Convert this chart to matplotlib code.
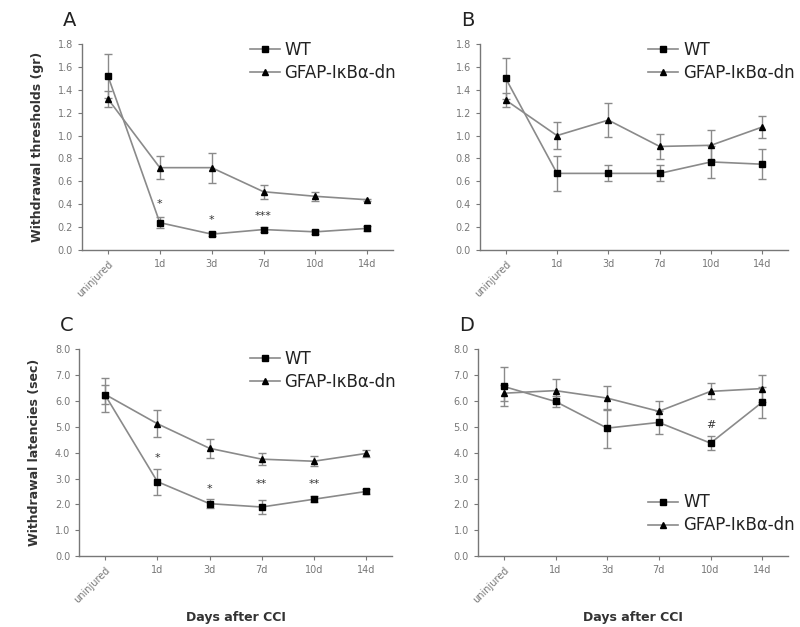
import matplotlib
matplotlib.use("Agg")
import matplotlib.pyplot as plt
from matplotlib.lines import Line2D
import numpy as np

categories = ["uninjured", "1d", "3d", "7d", "10d", "14d"]

# Panel A: withdrawal thresholds (gr), WT vs GFAP
a_wt = [1.52, 0.24, 0.14, 0.18, 0.16, 0.19]
a_wt_err = [0.19, 0.05, 0.02, 0.02, 0.015, 0.02]
a_gf = [1.32, 0.72, 0.72, 0.51, 0.47, 0.44]
a_gf_err = [0.07, 0.10, 0.13, 0.06, 0.04, 0.01]
a_marks = [("1d", 0.40, "*"), ("3d", 0.26, "*"), ("7d", 0.30, "***")]

# Panel B
b_wt = [1.50, 0.67, 0.67, 0.67, 0.77, 0.75]
b_wt_err = [0.18, 0.15, 0.07, 0.07, 0.14, 0.13]
b_gf = [1.31, 1.00, 1.135, 0.905, 0.915, 1.075]
b_gf_err = [0.06, 0.12, 0.15, 0.11, 0.13, 0.10]

# Panel C: withdrawal latencies (sec)
c_wt = [6.22, 2.88, 2.03, 1.90, 2.20, 2.50]
c_wt_err = [0.65, 0.50, 0.18, 0.27, 0.12, 0.08]
c_gf = [6.25, 5.12, 4.17, 3.75, 3.67, 3.97]
c_gf_err = [0.38, 0.52, 0.36, 0.22, 0.20, 0.13]
c_marks = [("1d", 3.8, "*"), ("3d", 2.6, "*"), ("7d", 2.8, "**"), ("10d", 2.8, "**")]

# Panel D
d_wt = [6.56, 5.98, 4.95, 5.17, 4.37, 5.95]
d_wt_err = [0.77, 0.20, 0.75, 0.45, 0.27, 0.60]
d_gf = [6.30, 6.40, 6.11, 5.60, 6.37, 6.48]
d_gf_err = [0.30, 0.45, 0.45, 0.40, 0.31, 0.52]
d_marks = [("10d", 5.08, "#")]

series_names = ["WT", "GFAP-IκBα-dn"]

LINE = "#8a8a8a"
AX = "#777777"

fig = plt.figure(figsize=(8, 6.27), dpi=100)

def panel(rect, wt, wte, gf, gfe, ylim, yticks, marks, ylabel, xlabel, letter, legpos):
    ax = fig.add_axes(rect)
    x = np.arange(len(categories))
    ax.errorbar(x, gf, yerr=gfe, color=LINE, lw=1.2, ecolor=LINE, elinewidth=1,
                capsize=3, marker="^", ms=5, mfc="black", mec="black")
    ax.errorbar(x, wt, yerr=wte, color=LINE, lw=1.2, ecolor=LINE, elinewidth=1,
                capsize=3, marker="s", ms=5, mfc="black", mec="black")
    for cat, yv, s in marks:
        ax.text(categories.index(cat), yv, s, ha="center", va="center", fontsize=8, color="#333333")
    ax.set_xlim(-0.5, 5.5)
    ax.set_ylim(*ylim)
    ax.set_yticks(yticks)
    ax.set_yticklabels([f"{t:.1f}" for t in yticks], fontsize=7, color="#555555")
    ax.set_xticks(x)
    ax.set_xticklabels(categories, fontsize=7, color="#555555")
    lbl = ax.get_xticklabels()[0]
    lbl.set_rotation(45)
    lbl.set_ha("right")
    lbl.set_rotation_mode("anchor")
    for s in ["top", "right"]:
        ax.spines[s].set_visible(False)
    for s in ["left", "bottom"]:
        ax.spines[s].set_color(AX)
        ax.spines[s].set_linewidth(1)
    ax.tick_params(colors=AX, length=3, width=0.8)
    if ylabel:
        ax.set_ylabel(ylabel, fontsize=9, fontweight="bold", color="#333333", labelpad=10)
    if xlabel:
        ax.set_xlabel(xlabel, fontsize=9, fontweight="bold", color="#333333", labelpad=4)
    fig.text(rect[0] - 0.024, rect[1] + rect[3] + 0.022, letter, fontsize=14, color="#222222",
             ha="left", va="bottom")
    handles = [Line2D([], [], color=LINE, lw=1.2, marker="s", ms=4, mfc="black", mec="black"),
               Line2D([], [], color=LINE, lw=1.2, marker="^", ms=4, mfc="black", mec="black")]
    leg = ax.legend(handles, series_names, loc="upper left", bbox_to_anchor=legpos,
                    bbox_transform=fig.transFigure, frameon=False, fontsize=12,
                    handlelength=1.8, handletextpad=0.3, labelspacing=0.3, borderpad=0,
                    borderaxespad=0)
    for t in leg.get_texts():
        t.set_color("#222222")
    return ax

yA = np.round(np.arange(0, 1.81, 0.2), 1)
yC = np.arange(0, 8.1, 1.0)

panel([0.1025, 0.601, 0.389, 0.329], a_wt, a_wt_err, a_gf, a_gf_err, (0, 1.8), yA, a_marks,
      "Withdrawal thresholds (gr)", None, "A", (0.312, 0.935))
panel([0.600, 0.601, 0.385, 0.329], b_wt, b_wt_err, b_gf, b_gf_err, (0, 1.8), yA, [],
      None, None, "B", (0.810, 0.935))
panel([0.099, 0.113, 0.391, 0.330], c_wt, c_wt_err, c_gf, c_gf_err, (0, 8.0), yC, c_marks,
      "Withdrawal latencies (sec)", "Days after CCI", "C", (0.312, 0.442))
panel([0.5975, 0.113, 0.3875, 0.330], d_wt, d_wt_err, d_gf, d_gf_err, (0, 8.0), yC, d_marks,
      None, "Days after CCI", "D", (0.810, 0.213))

fig.savefig("out.png", dpi=100, facecolor="white")
